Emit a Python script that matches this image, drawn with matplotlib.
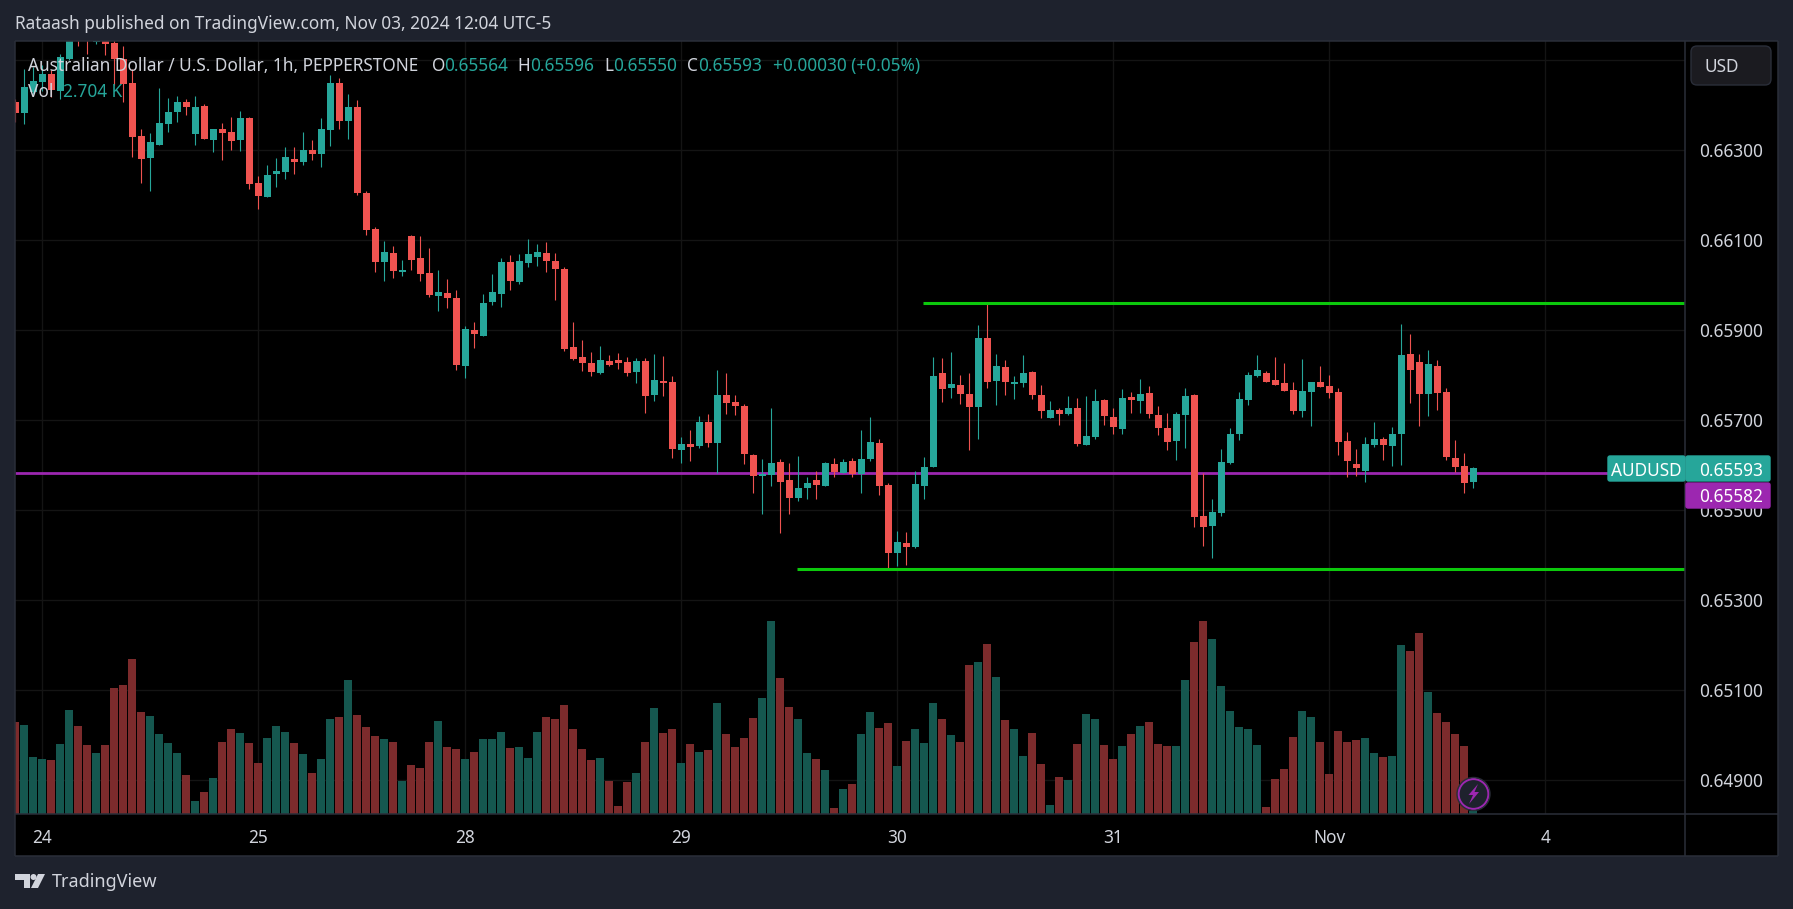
import matplotlib
matplotlib.use("Agg")
import matplotlib.pyplot as plt
from matplotlib.patches import Rectangle, Circle, Polygon, FancyBboxPatch

# Bar numbering: bar 0 is the first hourly bar of the 24th.
first_bar = -3
# Prices in 1e-5 units (points)
opens = [
 66407,66383,66430,66451,66469,66431,66503,66560,66570,66540,
 66550,66538,66503,66449,66331,66283,66311,66358,66385,66407,
 66336,66398,66323,66347,66340,66323,66371,66227,66196,66247,
 66251,66280,66274,66300,66291,66345,66449,66365,66396,66205,
 66125,66051,66071,66029,66109,66060,66027,65976,65983,65972,
 65821,65901,65887,65963,65981,66052,66007,66049,66063,66072,
 66054,66036,65863,65841,65827,65805,65832,65834,65829,65807,
 65832,65756,65787,65785,65634,65647,65643,65696,65649,65756,
 65741,65732,65623,65576,65578,65607,65567,65527,65549,65567,
 65554,65603,65583,65609,65581,65614,65650,65556,65405,65428,
 65419,65554,65596,65805,65772,65779,65759,65730,65883,65788,
 65819,65781,65783,65808,65756,65705,65723,65714,65728,65645,
 65663,65745,65708,65681,65752,65743,65761,65712,65683,65654,
 65712,65756,65488,65465,65494,65605,65670,65745,65799,65805,
 65790,65783,65768,65721,65763,65785,65776,65763,65654,65603,
 65588,65645,65659,65643,65670,65848,65830,65759,65821,65763,
 65616,65599,65564]
highs = [
 66415,66480,66486,66489,66478,66515,66575,66575,66580,66560,
 66556,66548,66531,66480,66347,66338,66438,66416,66420,66414,
 66420,66403,66347,66360,66374,66387,66374,66243,66267,66283,
 66307,66307,66340,66323,66371,66467,66460,66425,66411,66209,
 66129,66098,66087,66056,66111,66109,66083,66034,66014,65989,
 65909,65918,65981,66025,66061,66067,66069,66103,66092,66096,
 66072,66041,65918,65878,65852,65865,65845,65849,65841,65838,
 65838,65847,65843,65798,65663,65678,65709,65714,65812,65805,
 65756,65736,65625,65614,65727,65614,65605,65621,65574,65587,
 65607,65616,65614,65616,65679,65708,65659,65561,65454,65452,
 65588,65619,65841,65839,65852,65801,65805,65912,65963,65848,
 65834,65799,65845,65810,65779,65743,65728,65754,65750,65754,
 65770,65748,65728,65770,65763,65792,65776,65732,65716,65719,
 65772,65759,65583,65525,65636,65683,65763,65808,65845,65810,
 65841,65828,65785,65836,65785,65821,65801,65772,65674,65636,
 65663,65696,65663,65685,65914,65892,65848,65856,65834,65772,
 65656,65628,65596]
lows = [
 66363,66359,66426,66431,66419,66414,66500,66532,66514,66537,
 66511,66445,66407,66285,66227,66209,66311,66340,66363,66378,
 66311,66325,66296,66278,66300,66298,66214,66169,66196,66218,
 66236,66247,66267,66278,66263,66309,66347,66325,66200,66111,
 66029,66009,66016,66020,66034,66009,65974,65943,65949,65812,
 65794,65861,65887,65956,65952,65989,66003,66041,66043,66029,
 65967,65854,65834,65809,65798,65803,65821,65814,65798,65783,
 65716,65743,65754,65616,65605,65609,65638,65641,65583,65714,
 65712,65603,65538,65492,65554,65449,65492,65521,65525,65525,
 65554,65574,65583,65574,65539,65610,65534,65370,65376,65379,
 65416,65525,65596,65741,65750,65736,65634,65659,65772,65734,
 65756,65748,65774,65748,65705,65705,65690,65712,65643,65645,
 65659,65690,65670,65670,65716,65716,65705,65668,65634,65612,
 65639,65463,65421,65394,65488,65603,65656,65734,65796,65785,
 65779,65765,65714,65708,65688,65774,65750,65623,65574,65576,
 65563,65641,65612,65599,65601,65739,65688,65710,65723,65612,
 65585,65539,65550]
closes = [
 66383,66440,66454,66469,66434,66507,66560,66545,66552,66552,
 66536,66503,66447,66329,66280,66318,66360,66385,66407,66396,
 66396,66325,66347,66338,66320,66371,66225,66198,66245,66254,
 66285,66274,66300,66291,66347,66449,66365,66396,66205,66123,
 66051,66074,66031,66034,66056,66025,65978,65985,65971,65823,
 65903,65892,65961,65985,66052,66009,66054,66069,66074,66054,
 66036,65858,65836,65827,65807,65834,65823,65827,65805,65832,
 65754,65789,65783,65636,65647,65641,65696,65649,65756,65738,
 65732,65625,65576,65581,65605,65563,65527,65549,65561,65556,
 65605,65585,65607,65581,65614,65652,65554,65405,65430,65419,
 65559,65596,65799,65770,65781,65759,65730,65883,65785,65821,
 65785,65785,65805,65756,65721,65723,65714,65728,65648,65665,
 65743,65710,65685,65750,65745,65759,65714,65683,65652,65714,
 65754,65485,65463,65496,65608,65670,65748,65801,65812,65785,
 65779,65765,65721,65765,65785,65774,65761,65652,65610,65594,
 65648,65659,65645,65670,65845,65812,65759,65825,65761,65619,
 65596,65561,65593]
# Volume, relative units of the overlay scale
volumes = [
 276,267,171,165,162,210,312,264,207,183,
 207,378,387,465,306,294,240,213,183,117,
 39,66,108,216,255,243,213,153,228,264,
 246,213,180,123,165,285,291,402,297,261,
 234,225,216,99,147,138,216,279,201,195,
 165,186,225,225,246,198,201,168,246,291,
 285,327,255,195,162,168,99,24,96,123,
 216,318,243,255,153,210,186,192,333,240,
 201,228,288,348,579,408,321,285,183,165,
 132,18,75,90,240,306,258,273,144,219,
 255,213,333,285,237,216,447,456,510,411,
 282,255,174,243,150,27,111,102,210,300,
 285,207,165,204,240,264,276,210,204,204,
 402,516,579,525,384,309,261,255,207,21,
 105,135,231,309,291,216,120,249,216,222,
 228,183,171,174,507,489,543,366,303,276,
 240,204,9]

day_bars = [0, 24, 47, 71, 95, 119, 143, 167]
day_labels = ["24", "25", "28", "29", "30", "31", "Nov", "4"]
price_ticks = [0.649, 0.651, 0.653, 0.655, 0.657, 0.659, 0.661, 0.663, 0.665]
price_labels = [0.649, 0.651, 0.653, 0.655, 0.657, 0.659, 0.661, 0.663]
resistance = 0.65960
resistance_start = 97.85
support = 0.65369
support_start = 83.86
session_level = 0.65582
last_close = 0.65593
alert_level = 0.65582

W, H = 1793, 909
BG = "#1e222d"
BORDER = "#2a2e39"
TEXT = "#d1d4dc"
UP = "#26a69a"
DOWN = "#ef5350"
VOL_UP = "#15574f"
VOL_DOWN = "#7c2b2c"
GRID = "#141414"
FONT = "Noto Sans"
FS = 12.4
DY = 2.0   # text centre offset

plt.rcParams["font.family"] = FONT
fig = plt.figure(figsize=(W / 100, H / 100), dpi=100, facecolor=BG)

L, R, T, B = 15, 1685, 41, 814
def rect(l, t, r, b):
    return [l / W, 1 - b / H, (r - l) / W, (b - t) / H]

ax = fig.add_axes(rect(L, T, R, B), facecolor="black")
px_per_bar = 9.0
ax.set_xlim((L - 42.3) / px_per_bar, (R - 42.3) / px_per_bar)
ax.set_ylim(0.659 - (B - 330.3) / 45000, 0.659 + (330.3 - T) / 45000)
ax.set_xticks(day_bars)
ax.set_yticks(price_ticks)
ax.grid(True, color=GRID, lw=1.0, zorder=0)
ax.set_axisbelow(True)
for s in ax.spines.values():
    s.set_visible(False)

# Volume overlay
vax = ax.twinx()
vax.set_ylim(0, (B - T) * 3)
vax.axis("off")
xs = [first_bar + k for k in range(len(opens))]
vcols = [VOL_UP if c >= o else VOL_DOWN for o, c in zip(opens, closes)]
vax.bar(xs, volumes, width=0.89, color=vcols, linewidth=0, zorder=2)

# Candles drawn above volume
cax = ax.twinx()
cax.set_ylim(ax.get_ylim())
cax.axis("off")
ax.tick_params(left=False, right=False, bottom=False, top=False,
               labelleft=False, labelbottom=False)
P = 1e-5
cax.hlines(session_level, ax.get_xlim()[0], ax.get_xlim()[1], color="#9c27b0", lw=2.0, zorder=1)
cols = [UP if c >= o else DOWN for o, c in zip(opens, closes)]
cax.vlines(xs, [v * P for v in lows], [v * P for v in highs], colors=cols, lw=0.8, zorder=3)
cax.bar(xs, [abs(c - o) * P for o, c in zip(opens, closes)],
        bottom=[min(o, c) * P for o, c in zip(opens, closes)],
        width=0.78, color=cols, linewidth=0, zorder=4)
cax.hlines(resistance, resistance_start, ax.get_xlim()[1], color="#0cc80c", lw=2.2, zorder=5)
cax.hlines(support, support_start, ax.get_xlim()[1], color="#0cc80c", lw=2.2, zorder=5)

# Chrome on a full-figure pixel overlay
ov = fig.add_axes([0, 0, 1, 1], facecolor="none")
ov.set_xlim(0, W)
ov.set_ylim(H, 0)
ov.axis("off")
ov.add_patch(Rectangle((R, T), 1777.5 - R, 856 - T, fc="black", ec="none", zorder=0))
ov.add_patch(Rectangle((L, B), R - L, 856 - B, fc="black", ec="none", zorder=0))
for x0, y0, x1, y1 in [(L, T - 0.5, 1778, T - 0.5), (L, 856, 1778, 856), (L - .5, T, L - .5, 856),
                       (1777.5, T, 1777.5, 856), (R, T, R, 856), (L, B, 1778, B)]:
    ov.plot([x0, x1], [y0, y1], color=BORDER, lw=1.1, zorder=1, solid_capstyle="butt")

def price_y(p):
    return 330.3 + (0.659 - p) * 45000
def bar_x(i):
    return 42.3 + px_per_bar * i

for p in price_labels:
    ov.text(1731.5, price_y(p) + DY, f"{p:.5f}", color=TEXT, fontsize=FS, ha="center", va="center", zorder=2)
for b, lab in zip(day_bars, day_labels):
    ov.text(bar_x(b), 836 + DY, lab, color=TEXT, fontsize=FS, ha="center", va="center", zorder=2)

# Price tags
ov.add_patch(FancyBboxPatch((1608, 456), 77, 25, boxstyle="round,pad=0,rounding_size=2", fc=UP, ec=UP, lw=1, zorder=3))
ov.add_patch(FancyBboxPatch((1686, 456), 84, 25, boxstyle="round,pad=0,rounding_size=2", fc=UP, ec=UP, lw=1, zorder=3))
ov.add_patch(FancyBboxPatch((1686, 483), 84, 25, boxstyle="round,pad=0,rounding_size=2", fc="#9c27b0", ec="#9c27b0", lw=1, zorder=4))
ov.text(1646, 469 + DY, "AUDUSD", color="white", fontsize=FS, ha="center", va="center", zorder=5)
ov.text(1731.5, 469 + DY, f"{last_close:.5f}", color="white", fontsize=FS, ha="center", va="center", zorder=5)
ov.text(1731.5, 495.5 + DY, f"{alert_level:.5f}", color="white", fontsize=FS, ha="center", va="center", zorder=5, fontweight="semibold")

# Currency button
ov.add_patch(FancyBboxPatch((1691, 46), 80, 39, boxstyle="round,pad=0,rounding_size=6", fc="#1b1b20", ec=BORDER, lw=1, zorder=3))
ov.text(1705, 65.5 + DY, "USD", color=TEXT, fontsize=FS, ha="left", va="center", zorder=4)

# Header and legend
ov.text(15, 22 + DY, "Rataash published on TradingView.com, Nov 03, 2024 12:04 UTC-5",
        color=TEXT, fontsize=FS, ha="left", va="center")
for x, s, c in [(27.5, "Australian Dollar / U.S. Dollar, 1h, PEPPERSTONE", TEXT),
                (432, "O", TEXT), (444, "0.65564", UP), (517.5, "H", TEXT), (530, "0.65596", UP),
                (604, "L", TEXT), (613.5, "0.65550", UP), (687, "C", TEXT), (698, "0.65593", UP),
                (773, "+0.00030 (+0.05%)", UP)]:
    ov.text(x, 64 + DY, s, color=c, fontsize=FS, ha="left", va="center", zorder=6)
ov.text(27.5, 90 + DY, "Vol", color=TEXT, fontsize=FS, ha="left", va="center", zorder=6)
ov.text(63, 90 + DY, "2.704 K", color=UP, fontsize=FS, ha="left", va="center", zorder=6)

# Bolt badge
ov.add_patch(Circle((1473.5, 794), 15, fc=BG, ec="#9c27b0", lw=1.6, zorder=6))
ov.add_patch(Circle((1473.5, 794), 16.5, fc="none", ec="#2a2e39", lw=1, zorder=6))
ov.add_patch(Polygon([(1478, 784), (1468.5, 795), (1473, 795), (1469, 804), (1479, 792), (1474.5, 792)],
                     fc="#9c27b0", ec="none", zorder=7))

# Brand mark
ov.add_patch(Polygon([(15, 874), (30, 874), (30, 888), (24, 888), (24, 880), (15, 880)], fc=TEXT, ec="none"))
ov.add_patch(Circle((33.5, 877), 3, fc=TEXT, ec="none"))
ov.add_patch(Polygon([(38, 874), (45, 874), (38, 888), (31, 888)], fc=TEXT, ec="none"))
ov.text(52, 881 + 1, "TradingView", color=TEXT, fontsize=13, ha="left", va="center")

fig.savefig("out.png", dpi=100, facecolor=BG)
